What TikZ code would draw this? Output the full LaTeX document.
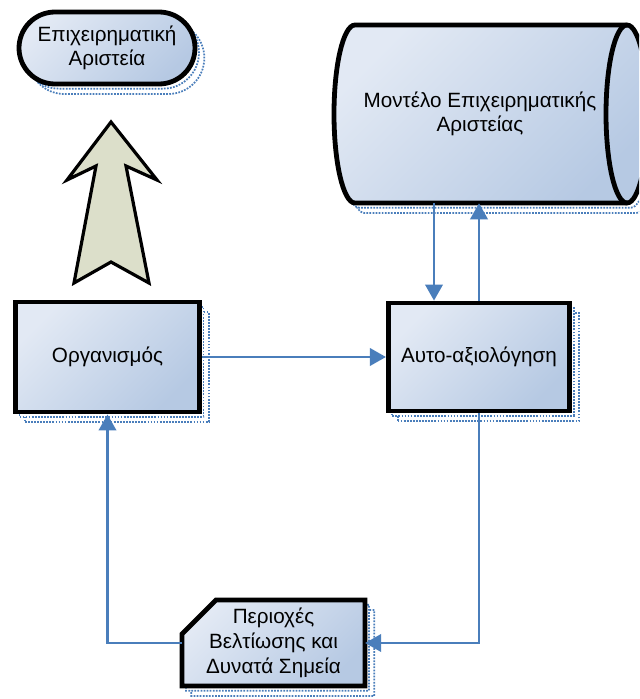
\documentclass[tikz,border=0pt]{standalone}
\usepackage{fontspec}
\setmainfont{Liberation Sans}
\usetikzlibrary{calc,arrows.meta,shadows}
\definecolor{boxlight}{HTML}{E2E9F4}
\definecolor{boxdark}{HTML}{B6C9E3}
\definecolor{linkblue}{HTML}{4A7EBB}
\definecolor{arrowfill}{HTML}{DCDFCA}

\tikzset{
	blueshadow/.style={
		copy shadow={shadow xshift=7pt,shadow yshift=-7.5pt,draw=linkblue,fill=white,densely dotted,line width=1.3pt},
		copy shadow={shadow xshift=3pt,shadow yshift=-3.5pt,draw=linkblue,fill=white,densely dotted,line width=1.3pt}},
	boxshape/.style={blueshadow,draw=black,line width=3.6pt,top color=boxlight,bottom color=boxdark,shading angle=45},
	boxtext/.style={align=center,font=\fontsize{15.5}{18.5}\selectfont,inner sep=0pt},
	block/.style={boxshape,boxtext},
	link/.style={draw=linkblue,line width=2pt,-{Triangle[length=12pt,width=13pt]}}
}

\begin{document}
\begin{tikzpicture}[x=0.75pt,y=-0.75pt]
	\clip (0,0) rectangle (639,699);
	\node[block,rounded corners=27pt,minimum width=132pt,minimum height=54pt] (goal) at (107,48) {Επιχειρηματική\\Αριστεία};
	\draw[fill=arrowfill,line width=2.4pt,line join=miter] (111,122)--(157,180)--(126,166)--(149,283)--(111,262)--(74,283)--(96,166)--(67,180)--cycle;
	\draw[boxshape] (355,25)--(627,25) arc[start angle=-90,end angle=90,x radius=21,y radius=89]--(355,203) arc[start angle=90,end angle=270,x radius=21,y radius=89]--cycle;
	\draw[line width=3.6pt] (627,25) arc[start angle=-90,end angle=-270,x radius=21,y radius=89];
	\node[boxtext,minimum width=220pt,minimum height=133.5pt] (model) at (480,114) {Μοντέλο Επιχειρηματικής\\Αριστείας};
	\node[block,minimum width=138pt,minimum height=82.5pt] (org) at (107.5,357) {Οργανισμός};
	\node[block,minimum width=136pt,minimum height=81pt] (auto) at (479,357) {Αυτο-αξιολόγηση};
	\draw[boxshape] (216,600)--(365,600)--(365,686)--(182,686)--(182,634)--cycle;
	\node[boxtext,minimum width=137pt,minimum height=64.5pt] (areas) at (273.5,643) {Περιοχές\\Βελτίωσης και\\Δυνατά Σημεία};
	\draw[link] (org.east)--(auto.west);
	\draw[link] ($(auto.north |- model.south)+(-45,0)$)--($(auto.north)+(-45,0)$);
	\draw[link] (auto.north)--(auto.north |- model.south);
	\draw[link] (auto.south) |- (areas.east);
	\draw[link] (areas.west) -| (org.south);
\end{tikzpicture}
\end{document}
